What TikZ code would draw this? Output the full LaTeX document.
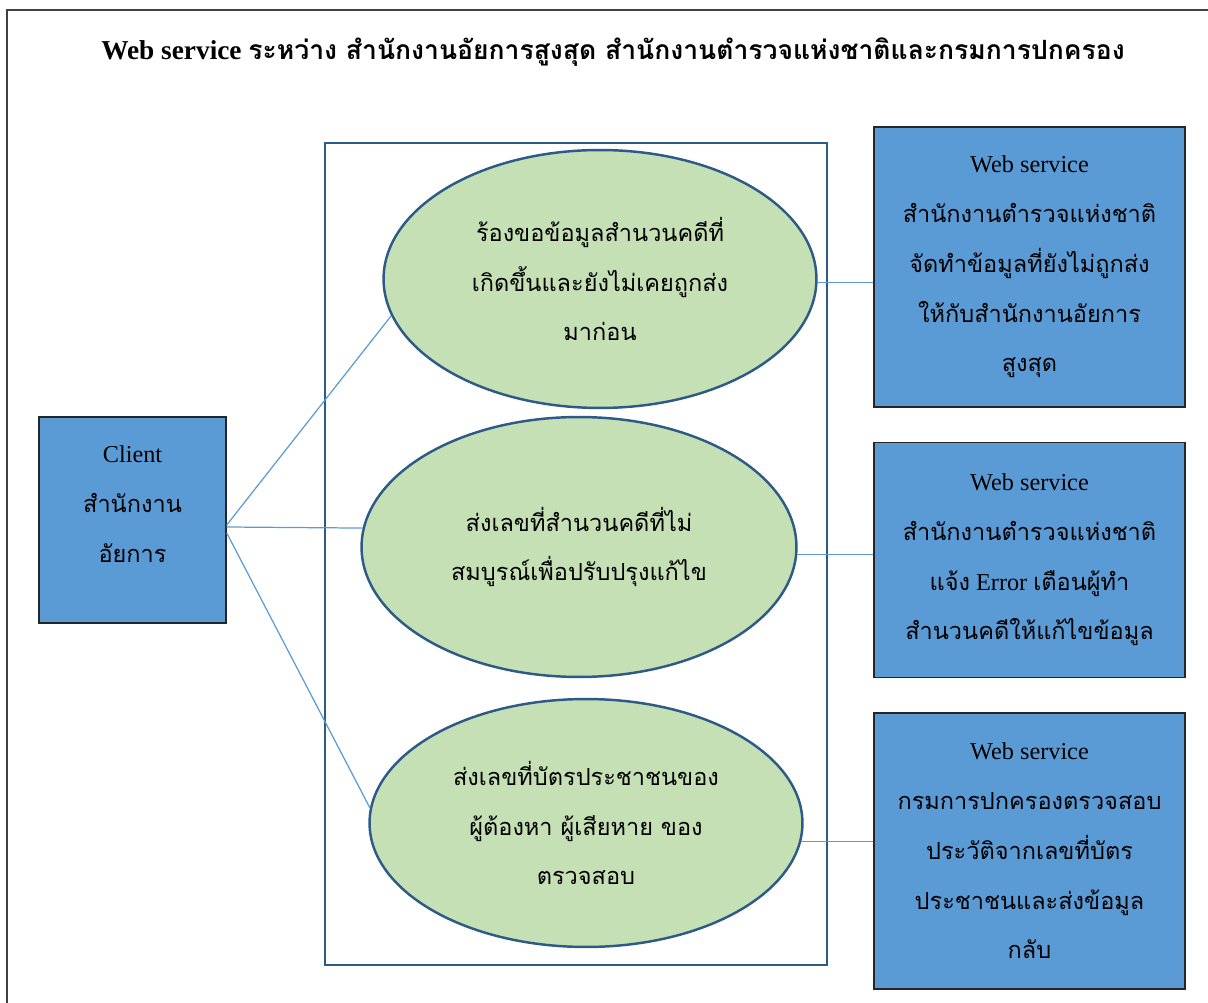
\documentclass[tikz,border=0pt]{standalone}
\usepackage{fontspec}
\setmainfont{Liberation Serif}
\newfontfamily\thai[Script=Thai, Scale=0.97]{Loma}
\usepackage{tikz}
\usetikzlibrary{positioning, calc, shapes.geometric}
\definecolor{BoxBlue}{HTML}{5B9BD5}
\definecolor{CaseGreen}{HTML}{C5E0B4}
\definecolor{EdgeBlue}{HTML}{2E5A88}
\definecolor{LinkBlue}{HTML}{5B9BD5}
\tikzstyle{Link} = [
    draw=LinkBlue,
    line width=0.7pt
]

\begin{document}
\begin{tikzpicture}[
x=0.02cm, y=-0.02cm,
usecase/.style={
    ellipse,
    draw=EdgeBlue,
    line width=1.4pt,
    fill=CaseGreen,
    inner sep=0pt,
    align=center,
    font=\fontsize{13.8}{28.35}\selectfont
    },
service/.style={
    rectangle,
    draw=black!85,
    line width=0.85pt,
    fill=BoxBlue,
    inner sep=0pt,
    minimum width=6.22cm,
    align=center,
    font=\fontsize{13.8}{28.35}\selectfont
    }
]
\useasboundingbox (0,0) rectangle (1208,1003);
\draw[line width=1.1pt, black!75] (7,1010) |- (1215,10);

\node [font=\bfseries\fontsize{15.55}{18}\selectfont] (T) at (613,52)
    {Web service {\thai ระหว่าง สำนักงานอัยการสูงสุด สำนักงานตำรวจแห่งชาติและกรมการปกครอง}};

\node [draw=EdgeBlue, line width=1.6pt, minimum width=10.04cm, minimum height=16.44cm] (S) at (576,554) {};

\node [service, minimum width=3.74cm, minimum height=4.12cm] (1) at (132.5,520) {};
\node [align=center, font=\fontsize{13.8}{28.35}\selectfont] (1t) at (132.5,504)
    {Client\\ {\thai สำนักงาน}\\ {\thai อัยการ}};

\node [usecase, minimum width=8.66cm, minimum height=5.16cm] (2) at (600,279) {
    {\thai ร้องขอข้อมูลสำนวนคดีที่}\\
    {\thai เกิดขึ้นและยังไม่เคยถูกส่ง}\\
    {\thai มาก่อน}
};
\node [usecase, minimum width=8.7cm, minimum height=5.2cm] (3) at (579,547) {
    {\thai ส่งเลขที่สำนวนคดีที่ไม่}\\
    {\thai สมบูรณ์เพื่อปรับปรุงแก้ไข}
};
\node [usecase, minimum width=8.66cm, minimum height=4.96cm] (4) at (586,823) {
    {\thai ส่งเลขที่บัตรประชาชนของ}\\
    {\thai ผู้ต้องหา ผู้เสียหาย ของ}\\
    {\thai ตรวจสอบ}
};

\node [service, minimum height=5.6cm] (5) at (1029.5,267) {
    Web service\\
    {\thai สำนักงานตำรวจแห่งชาติ}\\
    {\thai จัดทำข้อมูลที่ยังไม่ถูกส่ง}\\
    {\thai ให้กับสำนักงานอัยการ}\\
    {\thai สูงสุด}
};
\node [service, minimum height=4.7cm, below = 0.68cm of 5] (6) {
    Web service\\
    {\thai สำนักงานตำรวจแห่งชาติ}\\
    {\thai แจ้ง} Error {\thai เตือนผู้ทำ}\\
    {\thai สำนวนคดีให้แก้ไขข้อมูล}
};
\node [service, minimum height=5.52cm, below = 0.68cm of 6] (7) {
    Web service\\
    {\thai กรมการปกครองตรวจสอบ}\\
    {\thai ประวัติจากเลขที่บัตร}\\
    {\thai ประชาชนและส่งข้อมูล}\\
    {\thai กลับ}
};

\draw[Link] ($(1.east)+(0,5)$) -- (2.190);
\draw[Link] ($(1.east)+(0,7)$) -- (3.175);
\draw[Link] ($(1.east)+(0,13)$) -- (4.176);

\draw[Link] (2.-1) -- (2.-1 -| 5.west);
\draw[Link] (3.-2) -- (3.-2 -| 6.west);
\draw[Link] (4.-5) -- (4.-5 -| 7.west);

\end{tikzpicture}
\end{document}
